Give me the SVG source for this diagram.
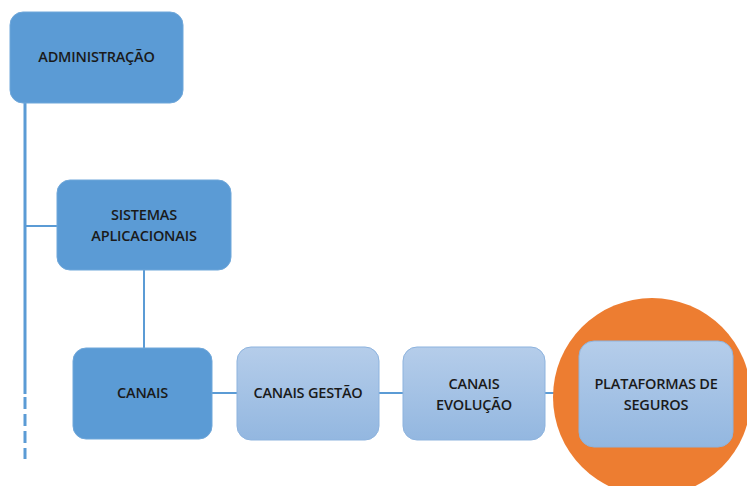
<svg xmlns="http://www.w3.org/2000/svg" width="747" height="486" viewBox="0 0 747 486">
<defs>
<linearGradient id="lg" x1="0" y1="0" x2="0" y2="1">
<stop offset="0" stop-color="#b5cdea"/>
<stop offset="1" stop-color="#93b7e0"/>
</linearGradient>
<style>
.dark{fill:#5b9bd5;stroke:#6fa7da;stroke-width:1}
.light{fill:url(#lg);stroke:#8db3de;stroke-width:1}
.t{font-family:"Open Sans","Liberation Sans",sans-serif;font-size:14.5px;font-weight:600;fill:#1a1a1a;text-anchor:middle;letter-spacing:-0.2px}
.c{stroke:#5b9bd5;fill:none}
</style>
</defs>
<rect width="747" height="486" fill="#ffffff"/>
<g id="connectors">
<line class="c" x1="25" y1="100" x2="25" y2="394" stroke-width="3"/>
<line class="c" x1="25" y1="397" x2="25" y2="459" stroke-width="3" stroke-dasharray="12,5"/>
<line class="c" x1="25" y1="226" x2="58" y2="226" stroke-width="2"/>
<line class="c" x1="144" y1="270" x2="144" y2="348" stroke-width="2"/>
<line class="c" x1="212" y1="393" x2="238" y2="393" stroke-width="2"/>
<line class="c" x1="379" y1="393" x2="404" y2="393" stroke-width="2"/>
<line class="c" x1="545" y1="393" x2="580" y2="393" stroke-width="2"/>
</g>
<g id="highlight">
<circle cx="652" cy="397" r="99" fill="#ed7d31"/>
</g>
<g id="administracao">
<rect class="dark" x="10" y="12" width="173" height="91" rx="13"/>
<text class="t" x="96.5" y="62">ADMINISTRAÇÃO</text>
</g>
<g id="sistemas">
<rect class="dark" x="57" y="180" width="174" height="90" rx="13"/>
<text class="t" x="144" y="220">SISTEMAS</text>
<text class="t" x="144" y="241">APLICACIONAIS</text>
</g>
<g id="canais">
<rect class="dark" x="73" y="348" width="139" height="91" rx="13"/>
<text class="t" x="142.5" y="398">CANAIS</text>
</g>
<g id="canais-gestao">
<rect class="light" x="237" y="347" width="142" height="93" rx="14"/>
<text class="t" x="308" y="398">CANAIS GESTÃO</text>
</g>
<g id="canais-evolucao">
<rect class="light" x="403" y="347" width="142" height="93" rx="14"/>
<text class="t" x="474" y="389">CANAIS</text>
<text class="t" x="474" y="410">EVOLUÇÃO</text>
</g>
<g id="plataformas">
<rect class="light" x="579" y="341" width="154" height="106" rx="15"/>
<text class="t" x="656" y="389">PLATAFORMAS DE</text>
<text class="t" x="656" y="410">SEGUROS</text>
</g>
</svg>
